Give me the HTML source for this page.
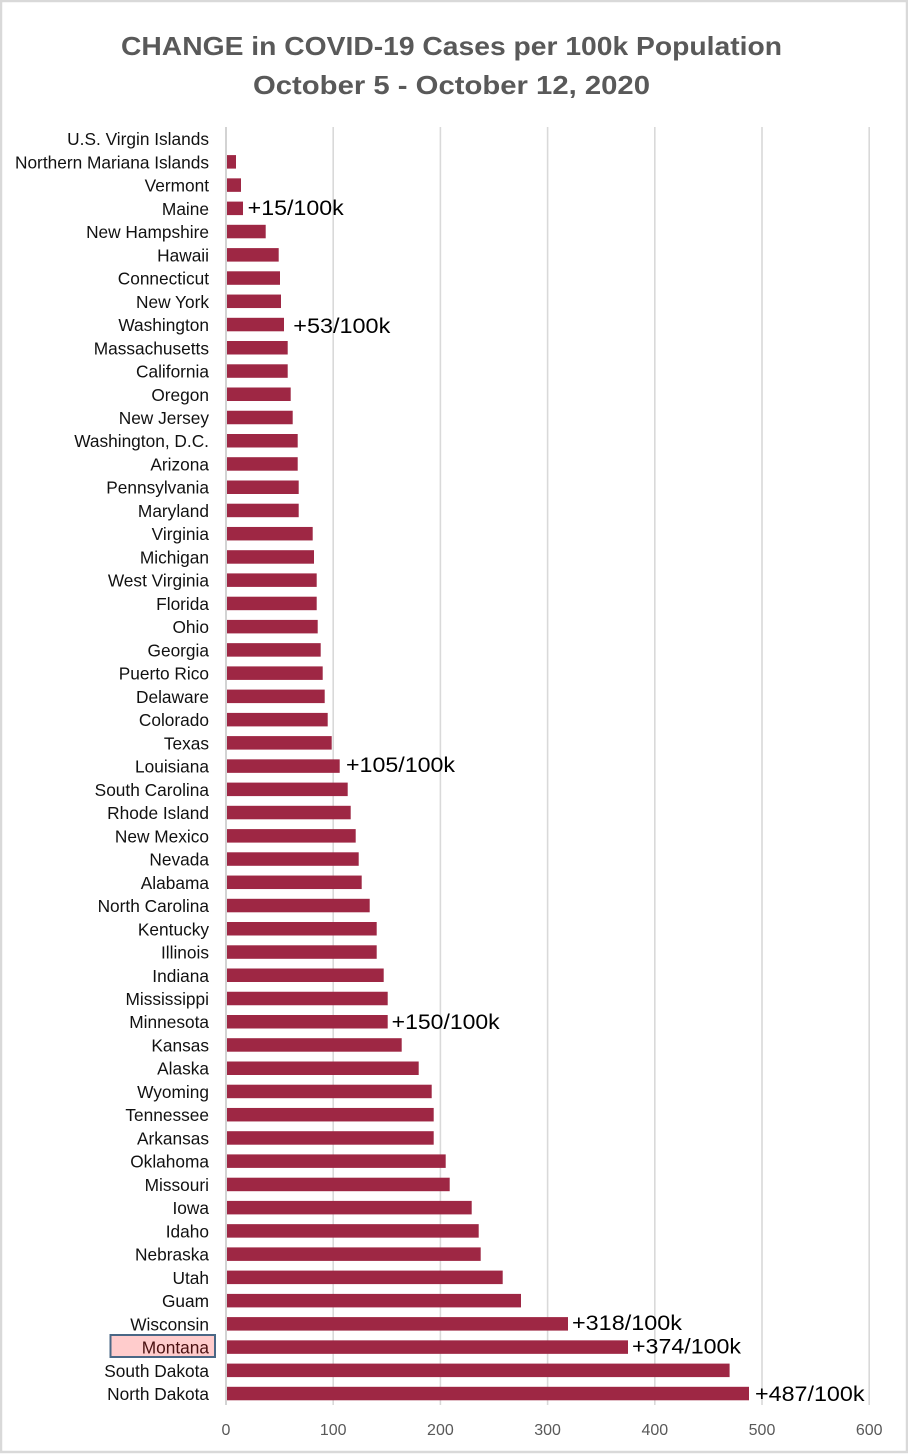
<!DOCTYPE html>
<html>
<head>
<meta charset="utf-8">
<style>
html,body{margin:0;padding:0;background:#fff;}
svg{display:block;}
.lbl{font-family:"Liberation Sans",sans-serif;font-size:17.3px;fill:#111;text-anchor:end;}
.tick{font-family:"Liberation Sans",sans-serif;font-size:16px;fill:#595959;text-anchor:middle;}
.dl{font-family:"Liberation Sans",sans-serif;font-size:21px;fill:#000;}
.ttl{font-family:"Liberation Sans",sans-serif;font-weight:bold;font-size:26px;fill:#595959;text-anchor:middle;}
</style>
</head>
<body>
<svg width="908" height="1454" viewBox="0 0 908 1454" xmlns="http://www.w3.org/2000/svg">
<rect x="1" y="1" width="906" height="1451" fill="#fff" stroke="#d9d9d9" stroke-width="2.5"/>
<text class="ttl" x="451.5" y="55" textLength="661" lengthAdjust="spacingAndGlyphs">CHANGE in COVID-19 Cases per 100k Population</text>
<text class="ttl" x="451.5" y="94" textLength="397" lengthAdjust="spacingAndGlyphs">October 5 - October 12, 2020</text>
<g stroke="#d9d9d9" stroke-width="1.6">
<line x1="333.2" y1="127" x2="333.2" y2="1405"/>
<line x1="440.4" y1="127" x2="440.4" y2="1405"/>
<line x1="547.6" y1="127" x2="547.6" y2="1405"/>
<line x1="654.8" y1="127" x2="654.8" y2="1405"/>
<line x1="762" y1="127" x2="762" y2="1405"/>
<line x1="869.2" y1="127" x2="869.2" y2="1405"/>
</g>
<line x1="226" y1="127" x2="226" y2="1405" stroke="#c8c8c8" stroke-width="1.6"/>
<g class="tick">
<text x="226" y="1435">0</text>
<text x="333.2" y="1435">100</text>
<text x="440.4" y="1435">200</text>
<text x="547.6" y="1435">300</text>
<text x="654.8" y="1435">400</text>
<text x="762" y="1435">500</text>
<text x="869.2" y="1435">600</text>
</g>
<rect x="110.5" y="1335" width="104.5" height="22" fill="#ffcccc" stroke="#4a6785" stroke-width="2"/>
<g fill="#9e2744">
<rect x="227" y="155.1" width="9" height="13.5"/>
<rect x="227" y="178.35" width="14" height="13.5"/>
<rect x="227" y="201.6" width="16" height="13.5"/>
<rect x="227" y="224.8" width="38.7" height="13.5"/>
<rect x="227" y="248.1" width="51.7" height="13.5"/>
<rect x="227" y="271.3" width="53" height="13.5"/>
<rect x="227" y="294.55" width="54" height="13.5"/>
<rect x="227" y="317.8" width="57" height="13.5"/>
<rect x="227" y="341.0" width="60.7" height="13.5"/>
<rect x="227" y="364.3" width="60.7" height="13.5"/>
<rect x="227" y="387.5" width="63.7" height="13.5"/>
<rect x="227" y="410.75" width="65.7" height="13.5"/>
<rect x="227" y="434.0" width="70.7" height="13.5"/>
<rect x="227" y="457.2" width="70.7" height="13.5"/>
<rect x="227" y="480.5" width="71.7" height="13.5"/>
<rect x="227" y="503.7" width="71.7" height="13.5"/>
<rect x="227" y="526.95" width="85.7" height="13.5"/>
<rect x="227" y="550.2" width="87" height="13.5"/>
<rect x="227" y="573.4" width="89.7" height="13.5"/>
<rect x="227" y="596.7" width="89.7" height="13.5"/>
<rect x="227" y="619.9" width="90.7" height="13.5"/>
<rect x="227" y="643.15" width="93.7" height="13.5"/>
<rect x="227" y="666.4" width="95.7" height="13.5"/>
<rect x="227" y="689.6" width="97.7" height="13.5"/>
<rect x="227" y="712.9" width="100.7" height="13.5"/>
<rect x="227" y="736.1" width="104.7" height="13.5"/>
<rect x="227" y="759.35" width="112.7" height="13.5"/>
<rect x="227" y="782.6" width="120.7" height="13.5"/>
<rect x="227" y="805.8" width="123.7" height="13.5"/>
<rect x="227" y="829.1" width="128.7" height="13.5"/>
<rect x="227" y="852.3" width="131.7" height="13.5"/>
<rect x="227" y="875.55" width="134.7" height="13.5"/>
<rect x="227" y="898.8" width="142.7" height="13.5"/>
<rect x="227" y="922.0" width="149.7" height="13.5"/>
<rect x="227" y="945.3" width="149.7" height="13.5"/>
<rect x="227" y="968.5" width="156.7" height="13.5"/>
<rect x="227" y="991.75" width="160.7" height="13.5"/>
<rect x="227" y="1015.0" width="160.7" height="13.5"/>
<rect x="227" y="1038.2" width="174.7" height="13.5"/>
<rect x="227" y="1061.5" width="191.7" height="13.5"/>
<rect x="227" y="1084.7" width="204.7" height="13.5"/>
<rect x="227" y="1107.95" width="206.7" height="13.5"/>
<rect x="227" y="1131.2" width="206.7" height="13.5"/>
<rect x="227" y="1154.4" width="218.7" height="13.5"/>
<rect x="227" y="1177.7" width="222.7" height="13.5"/>
<rect x="227" y="1200.9" width="244.7" height="13.5"/>
<rect x="227" y="1224.15" width="251.7" height="13.5"/>
<rect x="227" y="1247.4" width="253.7" height="13.5"/>
<rect x="227" y="1270.6" width="275.7" height="13.5"/>
<rect x="227" y="1293.9" width="294" height="13.5"/>
<rect x="227" y="1317.1" width="341" height="13.5"/>
<rect x="227" y="1340.35" width="401" height="13.5"/>
<rect x="227" y="1363.6" width="502.6" height="13.5"/>
<rect x="227" y="1386.8" width="522" height="13.5"/>
</g>
<g class="lbl">
<text x="209" y="145.1">U.S. Virgin Islands</text>
<text x="209" y="168.4">Northern Mariana Islands</text>
<text x="209" y="191.6">Vermont</text>
<text x="209" y="214.8">Maine</text>
<text x="209" y="238.1">New Hampshire</text>
<text x="209" y="261.3">Hawaii</text>
<text x="209" y="284.6">Connecticut</text>
<text x="209" y="307.8">New York</text>
<text x="209" y="331.0">Washington</text>
<text x="209" y="354.3">Massachusetts</text>
<text x="209" y="377.5">California</text>
<text x="209" y="400.8">Oregon</text>
<text x="209" y="424.0">New Jersey</text>
<text x="209" y="447.2">Washington, D.C.</text>
<text x="209" y="470.5">Arizona</text>
<text x="209" y="493.7">Pennsylvania</text>
<text x="209" y="517.0">Maryland</text>
<text x="209" y="540.2">Virginia</text>
<text x="209" y="563.4">Michigan</text>
<text x="209" y="586.7">West Virginia</text>
<text x="209" y="609.9">Florida</text>
<text x="209" y="633.2">Ohio</text>
<text x="209" y="656.4">Georgia</text>
<text x="209" y="679.6">Puerto Rico</text>
<text x="209" y="702.9">Delaware</text>
<text x="209" y="726.1">Colorado</text>
<text x="209" y="749.4">Texas</text>
<text x="209" y="772.6">Louisiana</text>
<text x="209" y="795.8">South Carolina</text>
<text x="209" y="819.1">Rhode Island</text>
<text x="209" y="842.3">New Mexico</text>
<text x="209" y="865.6">Nevada</text>
<text x="209" y="888.8">Alabama</text>
<text x="209" y="912.0">North Carolina</text>
<text x="209" y="935.3">Kentucky</text>
<text x="209" y="958.5">Illinois</text>
<text x="209" y="981.8">Indiana</text>
<text x="209" y="1005.0">Mississippi</text>
<text x="209" y="1028.2">Minnesota</text>
<text x="209" y="1051.5">Kansas</text>
<text x="209" y="1074.7">Alaska</text>
<text x="209" y="1098.0">Wyoming</text>
<text x="209" y="1121.2">Tennessee</text>
<text x="209" y="1144.4">Arkansas</text>
<text x="209" y="1167.7">Oklahoma</text>
<text x="209" y="1190.9">Missouri</text>
<text x="209" y="1214.2">Iowa</text>
<text x="209" y="1237.4">Idaho</text>
<text x="209" y="1260.6">Nebraska</text>
<text x="209" y="1283.9">Utah</text>
<text x="209" y="1307.1">Guam</text>
<text x="209" y="1330.4">Wisconsin</text>
<text x="209" y="1353.6" style="fill:#4a1010">Montana</text>
<text x="209" y="1376.8">South Dakota</text>
<text x="209" y="1400.1">North Dakota</text>
</g>
<g class="dl">
<text x="247.7" y="215" textLength="96" lengthAdjust="spacingAndGlyphs">+15/100k</text>
<text x="293.3" y="333" textLength="97" lengthAdjust="spacingAndGlyphs">+53/100k</text>
<text x="346" y="772" textLength="109" lengthAdjust="spacingAndGlyphs">+105/100k</text>
<text x="391.7" y="1029" textLength="108" lengthAdjust="spacingAndGlyphs">+150/100k</text>
<text x="572" y="1330" textLength="110" lengthAdjust="spacingAndGlyphs">+318/100k</text>
<text x="632" y="1353.5" textLength="109" lengthAdjust="spacingAndGlyphs">+374/100k</text>
<text x="755" y="1401" textLength="109.5" lengthAdjust="spacingAndGlyphs">+487/100k</text>
</g>
</svg>
</body>
</html>
